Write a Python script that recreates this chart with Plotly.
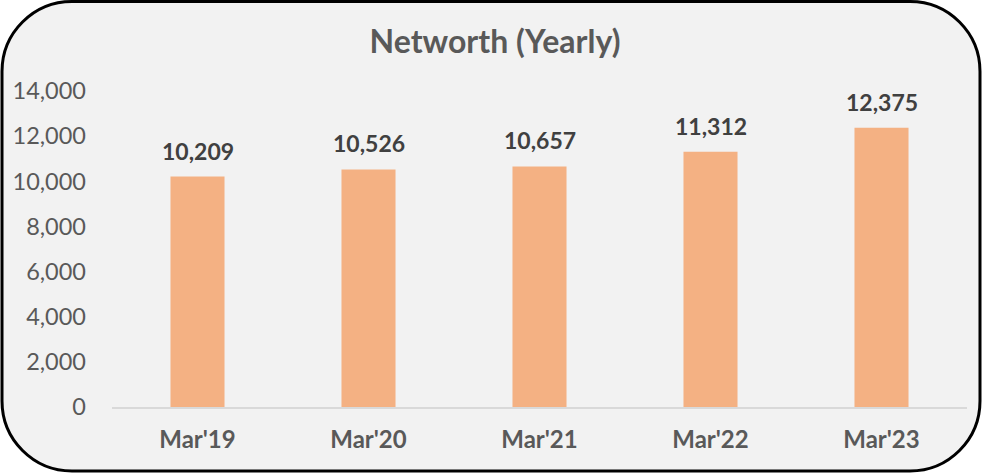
import plotly.graph_objects as go

categories = ["Mar'19", "Mar'20", "Mar'21", "Mar'22", "Mar'23"]
networth = [10209, 10526, 10657, 11312, 12375]
y_ticks = [0, 2000, 4000, 6000, 8000, 10000, 12000, 14000]
y_tick_labels = [f"{v:,}" for v in y_ticks]

W, H = 982, 474
ML, MR, MT, MB = 112, 15, 91, 67
PW, PH = W - ML - MR, H - MT - MB

def px(x):
    return (x - ML) / PW

def py(y):
    return 1 - (y - MT) / PH

# rounded rectangle border in pixel coords
x0, y0, x1, y1, r = 2, 1.5, 980, 471, 70
k = 0.5523 * r
def P(x, y):
    return f"{px(x):.5f},{py(y):.5f}"
path = (
    f"M {P(x0 + r, y0)} L {P(x1 - r, y0)} "
    f"C {P(x1 - r + k, y0)} {P(x1, y0 + r - k)} {P(x1, y0 + r)} "
    f"L {P(x1, y1 - r)} "
    f"C {P(x1, y1 - r + k)} {P(x1 - r + k, y1)} {P(x1 - r, y1)} "
    f"L {P(x0 + r, y1)} "
    f"C {P(x0 + r - k, y1)} {P(x0, y1 - r + k)} {P(x0, y1 - r)} "
    f"L {P(x0, y0 + r)} "
    f"C {P(x0, y0 + r - k)} {P(x0 + r - k, y0)} {P(x0 + r, y0)} Z"
)

FONT = "Lato, 'Open Sans', sans-serif"

fig = go.Figure()
fig.add_trace(go.Bar(
    x=categories, y=networth,
    marker=dict(color="#F4B183", line=dict(width=0)),
    width=0.316,
    hoverinfo="skip",
))

for c, v in zip(categories, networth):
    fig.add_annotation(
        x=c, y=v, text=f"<b>{v:,}</b>", showarrow=False,
        yanchor="bottom", yshift=10,
        font=dict(family=FONT, size=23, color="#404040"),
    )

fig.add_shape(
    type="path", path=path, xref="paper", yref="paper",
    fillcolor="#F2F2F2", line=dict(color="black", width=3), layer="below",
)

fig.update_layout(
    width=W, height=H,
    margin=dict(l=ML, r=MR, t=MT, b=MB),
    paper_bgcolor="white", plot_bgcolor="rgba(0,0,0,0)",
    showlegend=False,
    title=dict(
        text="<b>Networth (Yearly)</b>", x=495 / W, xref="container", xanchor="center",
        y=1 - 42 / H, yref="container", yanchor="middle",
        font=dict(family=FONT, size=32, color="#595959"),
    ),
    font=dict(family=FONT, color="#595959"),
)
fig.update_xaxes(
    showline=True, linecolor="#D9D9D9", linewidth=1.5,
    showgrid=False, ticks="",
    tickfont=dict(family=FONT, size=24, color="#595959", weight="bold"),
    ticklabelstandoff=11,
)
fig.update_yaxes(
    range=[0, 14000], tickvals=y_ticks, ticktext=y_tick_labels,
    showgrid=False, zeroline=False, showline=False, ticks="",
    tickfont=dict(family=FONT, size=23.5, color="#595959"),
    ticklabelstandoff=25,
)

fig.write_html(
    "out.html",
    config={"displayModeBar": False, "staticPlot": True},
    post_script="document.body.style.margin='0';document.body.style.overflow='hidden';",
)
